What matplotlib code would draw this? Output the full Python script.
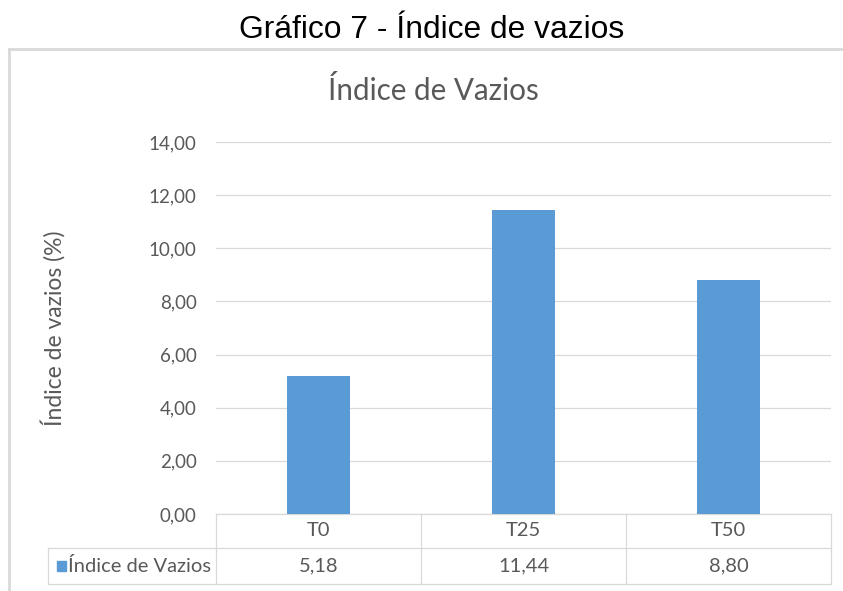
import matplotlib
matplotlib.use('Agg')

import matplotlib.pyplot as plt
import matplotlib.patches as mpatches
from matplotlib.lines import Line2D
from matplotlib.transforms import blended_transform_factory

categories = ['T0', 'T25', 'T50']
values = [5.18, 11.44, 8.80]
value_labels = ['5,18', '11,44', '8,80']
series_name = 'Índice de Vazios'
yticks = [0, 2, 4, 6, 8, 10, 12, 14]

BAR_COLOR = '#5b9bd5'
GRID_COLOR = '#d9d9d9'
TEXT_COLOR = '#595959'
FONT = ['Lato', 'DejaVu Sans']
FS = 13.5      # tick labels
FS_TAB = 14.5  # table text

W, H = 843, 591
fig = plt.figure(figsize=(W / 100, H / 100), dpi=100)

# plot area in pixels: x 216..831, y 142..514 (from top)
ax = fig.add_axes([216 / W, (H - 514) / H, (831 - 216) / W, (514 - 142) / H])

x = range(len(categories))
ax.bar(x, values, width=0.31, color=BAR_COLOR, zorder=3)

ax.set_xlim(-0.5, 2.5)
ax.set_ylim(0, 14)
ax.set_yticks(yticks)
ax.set_yticklabels([('%.2f' % t).replace('.', ',') for t in yticks], family=FONT, fontsize=FS, color=TEXT_COLOR)
ax.set_xticks([])
ax.tick_params(axis='y', length=0, pad=14)
ax.grid(axis='y', color=GRID_COLOR, linewidth=0.9, zorder=0)
for s in ax.spines.values():
    s.set_visible(False)

fig.text(53 / W, 1 - 328 / H, 'Índice de vazios (%)', rotation=90, ha='center', va='center',
         family=FONT, fontsize=16.5, color=TEXT_COLOR)

# data table under the axis
tr = blended_transform_factory(ax.transData, ax.transAxes)
ph = 514 - 142
y_hdr = -34 / ph
y_bot = -70 / ph
x_leg = -0.5 - (216 - 48) / 205.0

def tline(xs, ys):
    ax.add_line(Line2D(xs, ys, transform=tr, color=GRID_COLOR, linewidth=0.9, clip_on=False))

tline([-0.5, 2.5], [0, 0])
tline([x_leg, 2.5], [y_hdr, y_hdr])
tline([x_leg, 2.5], [y_bot, y_bot])
tline([x_leg, x_leg], [y_hdr, y_bot])
for b in [-0.5, 0.5, 1.5, 2.5]:
    tline([b, b], [0, y_bot])

for i, (c, v) in enumerate(zip(categories, value_labels)):
    ax.text(i, y_hdr / 2, c, transform=tr, ha='center', va='center',
            family=FONT, fontsize=FS_TAB, color=TEXT_COLOR, clip_on=False)
    ax.text(i, (y_hdr + y_bot) / 2, v, transform=tr, ha='center', va='center',
            family=FONT, fontsize=FS_TAB, color=TEXT_COLOR, clip_on=False)

# legend key in first column
key_w = 8.5 / 205.0
key_h = 9.5 / ph
ax.add_patch(mpatches.Rectangle((-0.5 - (216 - 57) / 205.0, (y_hdr + y_bot) / 2 - key_h / 2), key_w, key_h,
                                transform=tr, color=BAR_COLOR, clip_on=False))
ax.text(-0.5 - (216 - 68) / 205.0, (y_hdr + y_bot) / 2, series_name, transform=tr,
        ha='left', va='center', family=FONT, fontsize=FS_TAB, color=TEXT_COLOR, clip_on=False)

# chart titles
fig.text(433 / W, 1 - 91 / H, 'Índice de Vazios', ha='center', va='center',
         family=FONT, fontsize=21.3, color=TEXT_COLOR)
fig.text(432 / W, 1 - 30 / H, 'Gráfico 7 - Índice de vazios', ha='center', va='center',
         family=['Liberation Sans', 'DejaVu Sans'], fontsize=22.9, color='black')

# chart border (only top and left visible)
fig.add_artist(Line2D([9 / W, 1], [1 - 49 / H, 1 - 49 / H], transform=fig.transFigure,
                      color=GRID_COLOR, linewidth=2))
fig.add_artist(Line2D([9 / W, 9 / W], [0, 1 - 49 / H], transform=fig.transFigure,
                      color=GRID_COLOR, linewidth=2))

fig.savefig('out.png', dpi=100)
